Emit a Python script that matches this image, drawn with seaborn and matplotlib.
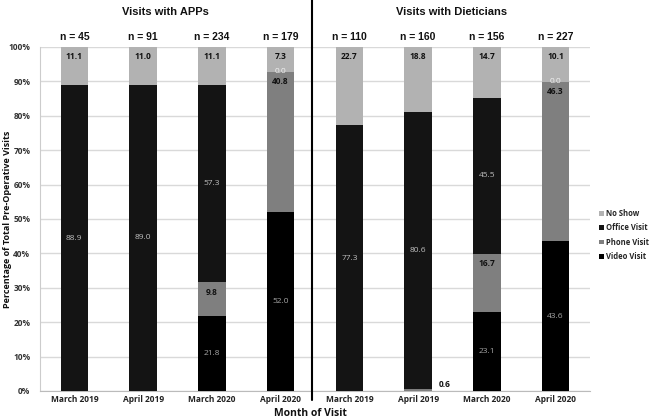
import matplotlib
matplotlib.use("Agg")
import matplotlib.pyplot as plt
import seaborn as sns
import pandas as pd
import numpy as np
from matplotlib.patches import Patch
from matplotlib.lines import Line2D

groups = ["Visits with APPs", "Visits with Dieticians"]
months = ["March 2019", "April 2019", "March 2020", "April 2020"]
n_app = [45, 91, 234, 179]
n_diet = [110, 160, 156, 227]

video_app = [0.0, 0.0, 21.8, 52.0]
phone_app = [0.0, 0.0, 9.8, 40.8]
office_app = [88.9, 89.0, 57.3, 0.0]
noshow_app = [11.1, 11.0, 11.1, 7.3]

video_diet = [0.0, 0.0, 23.1, 43.6]
phone_diet = [0.0, 0.6, 16.7, 46.3]
office_diet = [77.3, 80.6, 45.5, 0.0]
noshow_diet = [22.7, 18.8, 14.7, 10.1]

colors = {"No Show": "#b2b2b2", "Office Visit": "#141414",
          "Phone Visit": "#7f7f7f", "Video Visit": "#000000"}

keys = [f"A{i}" for i in range(4)] + [f"D{i}" for i in range(4)]
video = video_app + video_diet
phone = phone_app + phone_diet
office = office_app + office_diet
noshow = noshow_app + noshow_diet
ns = n_app + n_diet

df = pd.DataFrame({"key": keys, "video": video, "phone": phone,
                   "office": office, "noshow": noshow})
df["c_video"] = df["video"]
df["c_phone"] = df["c_video"] + df["phone"]
df["c_office"] = df["c_phone"] + df["office"]
df["c_noshow"] = df["c_office"] + df["noshow"]

sns.set_style("white")
FONT = "Open Sans"
fig = plt.figure(figsize=(6.49, 4.2), dpi=100)
ax = fig.add_axes([40 / 649, 1 - 391 / 420, 550 / 649, 344 / 420])

for col, name in [("c_noshow", "No Show"), ("c_office", "Office Visit"),
                  ("c_phone", "Phone Visit"), ("c_video", "Video Visit")]:
    sns.barplot(data=df, x="key", y=col, order=keys, color=colors[name],
                width=0.4, errorbar=None, saturation=1, ax=ax, zorder=3,
                linewidth=0, edgecolor="none")

ax.set_ylim(0, 100)
ax.set_xlim(-0.5, 7.5)
ax.set_yticks(np.arange(0, 101, 10))
ax.set_yticklabels([f"{v}%" for v in range(0, 101, 10)],
                   fontsize=6, fontweight="bold", color="#333333", family=FONT)
ax.set_xticks(range(8))
ax.set_xticklabels(months + months, fontsize=6, fontweight="bold",
                   color="#222222", family=FONT)
ax.tick_params(axis="x", length=0, pad=3)
ax.tick_params(axis="y", length=0, pad=7)
ax.grid(axis="y", color="#d9d9d9", linewidth=1, zorder=0)
ax.set_axisbelow(True)
for s in ["top", "right"]:
    ax.spines[s].set_visible(False)
ax.spines["left"].set_color("#cccccc")
ax.spines["bottom"].set_color("#bbbbbb")
ax.set_xlabel("")
ax.set_ylabel("")

# value labels
small = dict(fontsize=6, family=FONT)
for i in range(8):
    v, p, o, s = video[i], phone[i], office[i], noshow[i]
    top_p = v + p
    top_o = top_p + o
    top_s = top_o + s
    if v > 0:
        ax.text(i, v / 2, f"{v:.1f}", ha="center", va="center",
                color="#a6a6a6", zorder=5, **small)
    if p > 2:
        ax.annotate(f"{p:.1f}", (i, top_p), xytext=(0, -7), textcoords="offset points",
                    ha="center", va="center", color="#111111", fontweight="bold",
                    zorder=5, **small)
    elif p > 0:
        ax.annotate(f"{p:.1f}", (i + 0.2, 0), xytext=(9, 5), textcoords="offset points",
                    ha="center", va="center", color="#111111", fontweight="bold",
                    zorder=5, **small)
    if o > 0:
        ax.text(i, top_p + o / 2, f"{o:.1f}", ha="center", va="center",
                color="#bfbfbf", zorder=5, **small)
    elif v > 0:
        ax.text(i, top_p, f"{o:.1f}", ha="center", va="center",
                color="#f2f2f2", zorder=5, **small)
    ax.annotate(f"{s:.1f}", (i, top_s), xytext=(0, -7), textcoords="offset points",
                ha="center", va="center", color="#111111", fontweight="bold",
                zorder=5, **small)
    ax.annotate(f"n = {ns[i]}", (i, 100), xytext=(0, 7.5), textcoords="offset points",
                ha="center", va="center", color="#111111", fontweight="bold",
                fontsize=7.5, family="Liberation Sans", annotation_clip=False)

fig.text(165 / 649, 1 - 12 / 420, groups[0], ha="center", va="center",
         fontsize=8, fontweight="bold", family="Liberation Sans", color="#111111")
fig.text(452 / 649, 1 - 12 / 420, groups[1], ha="center", va="center",
         fontsize=8, fontweight="bold", family="Liberation Sans", color="#111111")

fig.add_artist(Line2D([312 / 649, 312 / 649], [1 - 400 / 420, 1.0],
                      transform=fig.transFigure, color="black", linewidth=1.5))

fig.text(310 / 649, 1 - 413 / 420, "Month of Visit", ha="center", va="center",
         fontsize=7.5, fontweight="bold", family=FONT, color="#111111")
fig.text(8 / 649, 1 - 219 / 420, "Percentage of Total Pre-Operative Visits",
         ha="center", va="center", rotation=90, fontsize=6.5, fontweight="bold",
         family=FONT, color="#111111")

handles = [Patch(facecolor=colors[k], edgecolor="none") for k in
           ["No Show", "Office Visit", "Phone Visit", "Video Visit"]]
leg = fig.legend(handles, ["No Show", "Office Visit", "Phone Visit", "Video Visit"],
                 loc="center left", bbox_to_anchor=(596 / 649, 1 - 235 / 420),
                 frameon=False, handlelength=0.6, handleheight=0.6,
                 handletextpad=0.3, labelspacing=0.7, borderaxespad=0,
                 prop={"family": FONT, "weight": "bold", "size": 5.5})

fig.savefig("out.png", dpi=100)
